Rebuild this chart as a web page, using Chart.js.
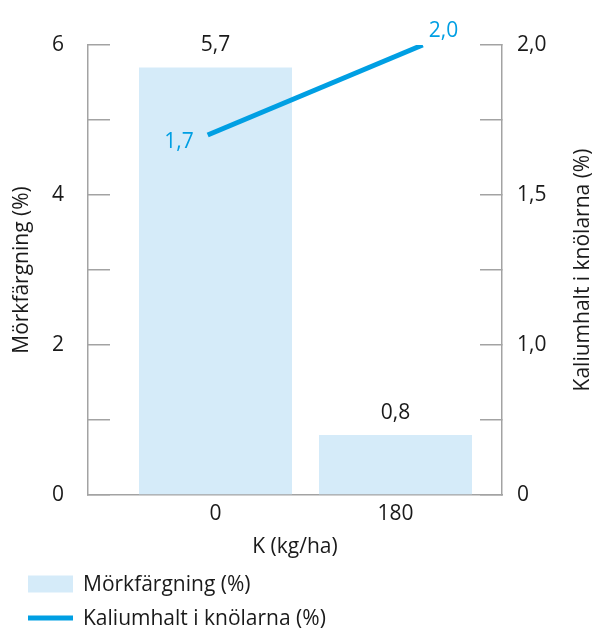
<!DOCTYPE html>
<html>
<head>
<meta charset="utf-8">
<script src="https://cdn.jsdelivr.net/npm/chart.js@4/dist/chart.umd.min.js"></script>
<style>
  html, body { margin: 0; padding: 0; background: #ffffff; }
  #wrap { width: 593px; height: 630px; position: relative; }
</style>
</head>
<body>
<div id="wrap"><canvas id="c" width="593" height="630"></canvas></div>
<script>
// K-gödsling (kg/ha)
const categories = [0, 180];
// Mörkfärgning (%) per K-nivå
const morkfargning = [5.7, 0.8];
// Kaliumhalt i knölarna (%) per K-nivå
const kaliumhalt = [1.7, 2.0];

// Vänster axel: markeringar varje hel procent, etikett varannan
const leftTickValues = [0, 1, 2, 3, 4, 5, 6];
const leftTickLabels = ['0', '', '2', '', '4', '', '6'];
// Höger axel (bruten): markeringar var 0,25, etiketter enligt nedan
const rightTickValues = [0.5, 0.75, 1.0, 1.25, 1.5, 1.75, 2.0];
const rightTickLabels = ['0', '', '1,0', '', '1,5', '', '2,0'];

const seriesNames = ['Mörkfärgning (%)', 'Kaliumhalt i knölarna (%)'];
const xTitle = 'K (kg/ha)';

const BAR_COLOR = '#d5ebf9';
const LINE_COLOR = '#009fe3';
const AXIS_COLOR = '#a3a3a3';
const TEXT_COLOR = '#1a1a1a';
const FONT_FAMILY = '"Open Sans", "Noto Sans", sans-serif';
const FONT_SIZE = 21;
const FONT = { family: FONT_FAMILY, size: FONT_SIZE };

const fmt = v => v.toFixed(1).replace('.', ',');

function labelFor(values, labels) {
  return v => {
    const i = values.findIndex(t => Math.abs(t - v) < 1e-6);
    return i >= 0 ? labels[i] : '';
  };
}

// Y-axlarnas bredd låses och etikettmarginaler tas bort
function fixYAxis(width) {
  return s => {
    s.width = width;
    s.paddingTop = 0;
    s.paddingBottom = 0;
  };
}

// Värdeetiketter vid staplar och linjens ändpunkter
const valueLabels = {
  id: 'valueLabels',
  afterDatasetsDraw(chart) {
    const ctx = chart.ctx;
    ctx.save();
    ctx.font = `${FONT_SIZE}px ${FONT_FAMILY}`;
    ctx.textBaseline = 'middle';
    ctx.fillStyle = TEXT_COLOR;
    ctx.textAlign = 'center';
    chart.getDatasetMeta(0).data.forEach((el, i) => {
      ctx.fillText(fmt(morkfargning[i]), el.x, el.y - 22);
    });
    const pts = chart.getDatasetMeta(1).data;
    const last = pts.length - 1;
    ctx.fillStyle = LINE_COLOR;
    ctx.textAlign = 'right';
    ctx.fillText(fmt(kaliumhalt[0]), pts[0].x - 14, pts[0].y + 7);
    ctx.textAlign = 'left';
    ctx.fillText(fmt(kaliumhalt[last]), pts[last].x + 6, pts[last].y - 14);
    ctx.restore();
  }
};

// Högeraxelns titel, läses nedifrån och upp
const rightTitle = {
  id: 'rightTitle',
  afterDraw(chart) {
    const s = chart.scales.y2;
    const ctx = chart.ctx;
    ctx.save();
    ctx.translate(s.right - 10, (s.top + s.bottom) / 2);
    ctx.rotate(-Math.PI / 2);
    ctx.font = `${FONT_SIZE}px ${FONT_FAMILY}`;
    ctx.fillStyle = TEXT_COLOR;
    ctx.textAlign = 'center';
    ctx.textBaseline = 'middle';
    ctx.fillText(seriesNames[1], 0, 0);
    ctx.restore();
  }
};

// Teckenförklaring i två rader under diagrammet
const stackedLegend = {
  id: 'stackedLegend',
  afterDraw(chart) {
    const ctx = chart.ctx;
    const x0 = 28, sw = 45, textX = 83;
    const rows = [584, 618];
    ctx.save();
    ctx.font = `${FONT_SIZE}px ${FONT_FAMILY}`;
    ctx.textBaseline = 'middle';
    ctx.textAlign = 'left';
    chart.data.datasets.forEach((ds, i) => {
      const y = rows[i];
      if (ds.type === 'line') {
        ctx.strokeStyle = ds.borderColor;
        ctx.lineWidth = 5;
        ctx.beginPath();
        ctx.moveTo(x0, y);
        ctx.lineTo(x0 + sw, y);
        ctx.stroke();
      } else {
        ctx.fillStyle = ds.backgroundColor;
        ctx.fillRect(x0, y - 8.5, sw, 17);
      }
      ctx.fillStyle = TEXT_COLOR;
      ctx.fillText(ds.label, textX, y + 1);
    });
    ctx.restore();
  }
};

new Chart(document.getElementById('c'), {
  type: 'bar',
  data: {
    datasets: [
      {
        type: 'bar',
        label: seriesNames[0],
        data: categories.map((c, i) => ({ x: c, y: morkfargning[i] })),
        xAxisID: 'x',
        yAxisID: 'y',
        backgroundColor: BAR_COLOR,
        barPercentage: 0.85,
        categoryPercentage: 1,
        grouped: false,
        order: 1
      },
      {
        type: 'line',
        label: seriesNames[1],
        data: categories.map((c, i) => ({ x: c, y: kaliumhalt[i] })),
        xAxisID: 'x2',
        yAxisID: 'y2',
        borderColor: LINE_COLOR,
        backgroundColor: LINE_COLOR,
        borderWidth: 5,
        borderCapStyle: 'butt',
        pointRadius: 0,
        tension: 0,
        order: 0
      }
    ]
  },
  options: {
    responsive: false,
    animation: false,
    layout: { padding: { top: 45, bottom: 70, left: 0, right: 0 } },
    plugins: { legend: { display: false }, tooltip: { enabled: false } },
    scales: {
      x: {
        type: 'linear',
        position: 'bottom',
        offset: false,
        min: -127.5,
        max: 286.5,
        afterBuildTicks: s => { s.ticks = categories.map(v => ({ value: v })); },
        afterFit: s => { s.height = 65; },
        grid: { display: true, offset: false, drawOnChartArea: false, drawTicks: false },
        border: { display: true, color: AXIS_COLOR, width: 1.5 },
        ticks: { color: TEXT_COLOR, font: FONT, padding: 6, maxRotation: 0, autoSkip: false,
                 callback: v => String(v) },
        title: { display: true, text: xTitle, color: TEXT_COLOR, font: FONT, padding: { top: 0, bottom: 0 } }
      },
      // Linjens egen x-skala, något bredare spridd än staplarnas
      x2: {
        type: 'linear',
        display: false,
        offset: false,
        grid: { offset: false },
        min: -100.2,
        max: 246.4
      },
      y: {
        position: 'left',
        min: 0,
        max: 6,
        afterBuildTicks: s => { s.ticks = leftTickValues.map(v => ({ value: v })); },
        afterFit: fixYAxis(88),
        grid: { display: true, drawOnChartArea: false, drawTicks: true, tickLength: -22, color: AXIS_COLOR, lineWidth: 1.5 },
        border: { display: true, color: AXIS_COLOR, width: 1.5 },
        ticks: { color: TEXT_COLOR, font: FONT, padding: 46, autoSkip: false,
                 callback: labelFor(leftTickValues, leftTickLabels) },
        title: { display: true, text: seriesNames[0], color: TEXT_COLOR, font: FONT, padding: { top: 9, bottom: 0 } }
      },
      y2: {
        position: 'right',
        min: 0.5,
        max: 2.0,
        afterBuildTicks: s => { s.ticks = rightTickValues.map(v => ({ value: v })); },
        afterFit: fixYAxis(91),
        grid: { display: true, drawOnChartArea: false, drawTicks: true, tickLength: -22, color: AXIS_COLOR, lineWidth: 1.5 },
        border: { display: true, color: AXIS_COLOR, width: 1.5 },
        ticks: { color: TEXT_COLOR, font: FONT, padding: 37, autoSkip: false,
                 callback: labelFor(rightTickValues, rightTickLabels) },
        title: { display: false }
      }
    }
  },
  plugins: [valueLabels, rightTitle, stackedLegend]
});
</script>
</body>
</html>
